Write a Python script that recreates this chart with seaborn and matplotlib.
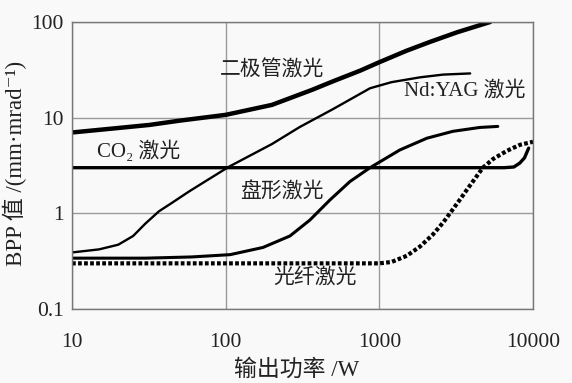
import matplotlib
matplotlib.use("Agg")
import matplotlib.pyplot as plt
import seaborn as sns
import pandas as pd
import numpy as np
from matplotlib.ticker import FixedLocator, FixedFormatter, LogLocator, NullFormatter

sns.set_style("white")
plt.rcParams['font.family'] = ['Liberation Serif', 'DejaVu Serif', 'Noto Sans CJK SC']

# ---- data ----
diode_x = [10, 20, 32, 50, 100, 200, 364, 500, 750, 1000, 1500, 2140, 3200, 5260]
diode_y = [7.0, 7.8, 8.4, 9.3, 10.7, 13.6, 19.5, 24, 31, 38, 50, 62, 78, 100]

ndyag_x = [10, 15, 20, 25, 30, 36.8, 44.8, 57.7, 73.4, 105, 200, 304, 500, 870, 1200, 1840, 2600, 3900]
ndyag_y = [0.39, 0.42, 0.47, 0.58, 0.78, 1.05, 1.29, 1.69, 2.15, 3.07, 5.3, 8.0, 12.3, 20.3, 23.5, 26.4, 28.2, 29.0]

co2_x = [10, 100, 1000, 6500, 7500, 8200, 8800, 9370]
co2_y = [3.0, 3.0, 3.0, 3.0, 3.05, 3.35, 3.8, 4.8]

disk_x = [10, 30, 60, 107, 175, 262, 353, 477, 644, 870, 1361, 2040, 3010, 4500, 5900]
disk_y = [0.34, 0.34, 0.35, 0.37, 0.44, 0.58, 0.85, 1.38, 2.15, 3.0, 4.6, 6.1, 7.2, 7.9, 8.1]

fiber_x = [10, 100, 1000, 1200, 1510, 1840, 2230, 2600, 2880, 3300, 3710, 4720, 5500, 6760, 8220, 10000]
fiber_y = [0.30, 0.30, 0.30, 0.31, 0.36, 0.45, 0.60, 0.80, 1.0, 1.35, 1.76, 3.0, 3.7, 4.5, 5.2, 5.6]

x_ticks = [10, 100, 1000, 10000]
x_labels = ["10", "100", "1000", "10000"]
y_ticks = [0.1, 1, 10, 100]
y_labels = ["0.1", "1", "10", "100"]

labels = ["二极管激光", "Nd:YAG 激光", "CO₂ 激光", "盘形激光", "光纤激光"]
label_x = [200, 3600, 27.3, 233, 380]
label_y = [30.7, 19.0, 4.5, 1.63, 0.21]

# ---- figure ----
bg = '#f9f9f9'
fig = plt.figure(figsize=(5.72, 3.83), dpi=100, facecolor=bg)
ax = fig.add_axes([72/572, 1-309/383, 461/572, 287/383])
ax.set_facecolor(bg)

series = [
    (diode_x, diode_y, dict(color='black', linewidth=3.2)),
    (ndyag_x, ndyag_y, dict(color='black', linewidth=1.7)),
    (co2_x, co2_y, dict(color='black', linewidth=2.4)),
    (disk_x, disk_y, dict(color='black', linewidth=2.2)),
]
for xs, ys, kw in series:
    df = pd.DataFrame({'x': xs, 'y': ys})
    sns.lineplot(data=df, x='x', y='y', ax=ax, sort=False, estimator=None, **kw)

dff = pd.DataFrame({'x': fiber_x, 'y': fiber_y})
sns.lineplot(data=dff, x='x', y='y', ax=ax, sort=False, estimator=None,
             color='black', linewidth=3.0, linestyle=(0, (0.9, 0.55)),
             dash_capstyle='butt')

ax.set_xscale('log')
ax.set_yscale('log')
ax.set_xlim(10, 10000)
ax.set_ylim(0.1, 100)

ax.xaxis.set_major_locator(FixedLocator(x_ticks))
ax.xaxis.set_major_formatter(FixedFormatter(x_labels))
ax.yaxis.set_major_locator(FixedLocator(y_ticks))
ax.yaxis.set_major_formatter(FixedFormatter(y_labels))
ax.xaxis.set_minor_locator(LogLocator(base=10, subs=np.arange(2, 10)))
ax.yaxis.set_minor_locator(LogLocator(base=10, subs=np.arange(2, 10)))
ax.xaxis.set_minor_formatter(NullFormatter())
ax.yaxis.set_minor_formatter(NullFormatter())

ax.tick_params(which='major', length=0, labelsize=15.5, colors='#222222')
ax.tick_params(axis='x', which='major', pad=17)
ax.tick_params(axis='y', which='major', pad=6)
ax.tick_params(which='minor', direction='in', length=4, width=0.9, color='#555555')

ax.grid(True, which='major', color='#9a9a9a', linewidth=1.0)
ax.set_axisbelow(True)
for s in ax.spines.values():
    s.set_color('#777777')
    s.set_linewidth(1.0)

ax.set_xlabel('')
ax.set_ylabel('')

for t, lx, ly in zip(labels, label_x, label_y):
    ax.text(lx, ly, t, ha='center', va='center', fontsize=15, color='#222222')

fig.text(297/572, 1-370/383, "输出功率 /W", ha='center', va='center', fontsize=16.5, color='#222222')
fig.text(15/572, 1-163/383, "BPP 值 /(mm·mrad⁻¹)", ha='center', va='center',
         rotation=90, fontsize=16.5, color='#222222')

fig.savefig('out.png', dpi=100, facecolor=bg)
